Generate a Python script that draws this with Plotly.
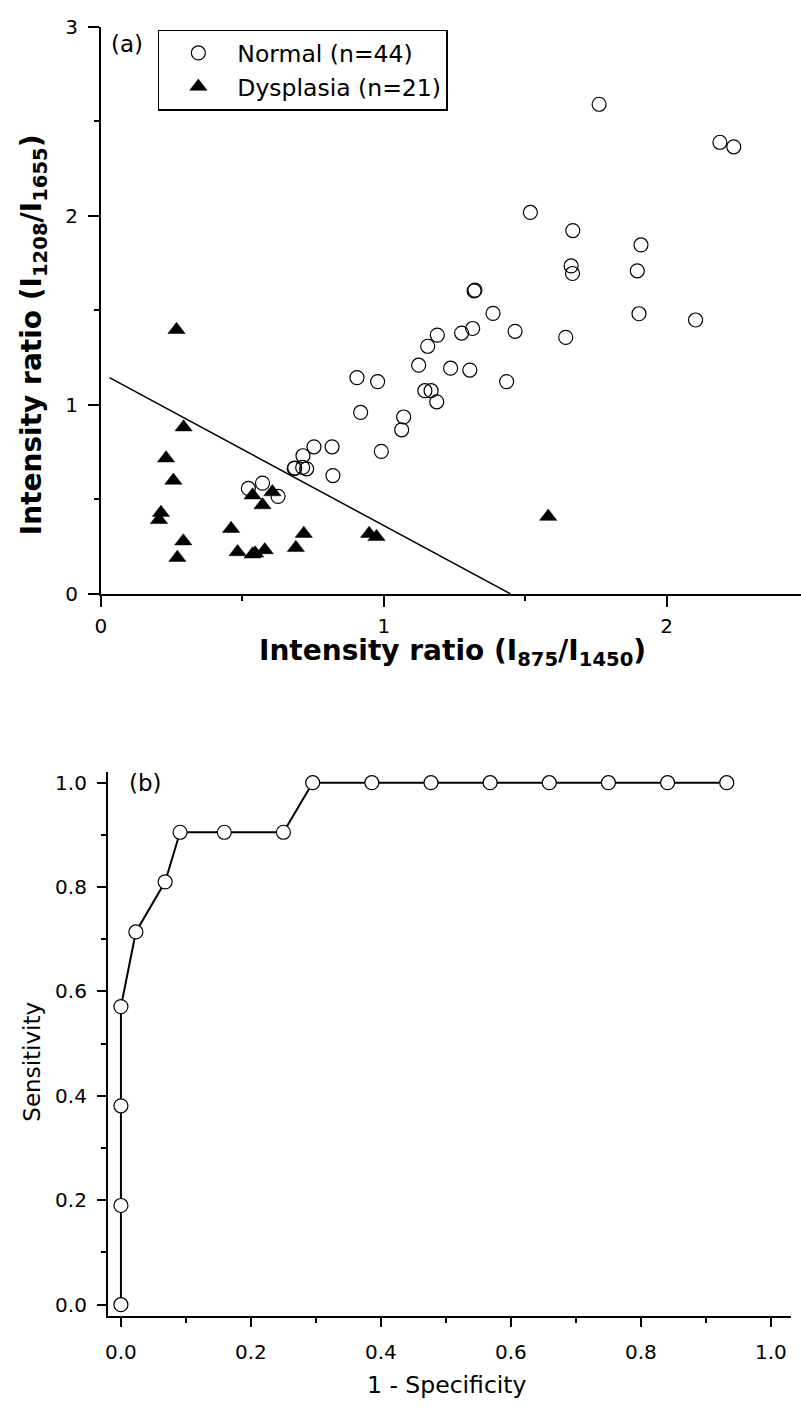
import plotly.graph_objects as go

# ---------------- data: panel (a) ----------------
normal_x = [1.761, 2.188, 2.237, 1.518, 1.668, 1.909, 1.662, 1.667, 1.896, 1.319,
            1.322, 1.386, 1.902, 2.102, 1.189, 1.155, 1.275, 1.314, 1.464, 1.643,
            1.123, 1.236, 1.304, 1.434, 1.145, 1.167, 1.187, 1.070, 1.063, 0.905,
            0.978, 0.918, 0.991, 0.753, 0.817, 0.714, 0.683, 0.713, 0.727, 0.820,
            0.571, 0.521, 0.626, 0.685]
normal_y = [2.590, 2.389, 2.365, 2.018, 1.922, 1.846, 1.735, 1.695, 1.709, 1.603,
            1.607, 1.484, 1.482, 1.449, 1.369, 1.310, 1.380, 1.404, 1.389, 1.357,
            1.210, 1.194, 1.184, 1.123, 1.075, 1.075, 1.016, 0.936, 0.868, 1.144,
            1.123, 0.960, 0.754, 0.778, 0.778, 0.731, 0.664, 0.669, 0.662, 0.626,
            0.586, 0.558, 0.516, 0.666]

dys_x = [0.267, 0.292, 0.230, 0.256, 0.212, 0.205, 0.291, 0.270, 0.460, 0.483,
         0.536, 0.545, 0.579, 0.536, 0.606, 0.571, 0.717, 0.689, 0.948, 0.974, 1.581]
dys_y = [1.397, 0.882, 0.718, 0.600, 0.430, 0.392, 0.279, 0.192, 0.345, 0.222,
         0.210, 0.215, 0.232, 0.522, 0.539, 0.470, 0.319, 0.244, 0.319, 0.302, 0.409]

# decision line: y = intercept + slope * x, drawn from x_start to where y = 0
line_intercept = 1.168
line_slope = -0.8065
line_x_start = 0.03

# ---------------- data: panel (b) ROC ----------------
one_minus_spec = [0.0, 0.0, 0.0, 0.0, 0.023, 0.068, 0.091, 0.159, 0.250, 0.295,
                  0.386, 0.477, 0.568, 0.659, 0.750, 0.841, 0.932]
sensitivity = [0.0, 0.190, 0.381, 0.571, 0.714, 0.810, 0.905, 0.905, 0.905, 1.0,
               1.0, 1.0, 1.0, 1.0, 1.0, 1.0, 1.0]

# ---------------- figure ----------------
W, H = 801, 1412
FONT = "DejaVu Sans"
BLACK = "black"


def px_x(p):
    return p / W


def px_y(p):
    return 1 - p / H


line_x_end = -line_intercept / line_slope
bx = [line_x_start, line_x_end]
by = [line_intercept + line_slope * v for v in bx]

fig = go.Figure()

fig.add_trace(go.Scatter(
    x=normal_x, y=normal_y, mode="markers", name="Normal (n=44)",
    marker=dict(symbol="circle-open", size=14, color=BLACK, line=dict(width=1.2, color=BLACK)),
    xaxis="x", yaxis="y"))
fig.add_trace(go.Scatter(
    x=dys_x, y=dys_y, mode="markers", name="Dysplasia (n=21)",
    marker=dict(symbol="triangle-up", size=15, color=BLACK, line=dict(width=0.5, color=BLACK)),
    xaxis="x", yaxis="y"))
fig.add_trace(go.Scatter(
    x=bx, y=by, mode="lines", showlegend=False,
    line=dict(color=BLACK, width=1.5), xaxis="x", yaxis="y"))

fig.add_trace(go.Scatter(
    x=one_minus_spec, y=sensitivity, mode="lines+markers", showlegend=False,
    line=dict(color=BLACK, width=2),
    marker=dict(symbol="circle", size=14, color="white", line=dict(width=1.2, color=BLACK)),
    xaxis="x2", yaxis="y2"))

axis_common = dict(
    showline=True, linecolor=BLACK, linewidth=2, mirror=False,
    showgrid=False, zeroline=False,
    ticks="outside", tickcolor=BLACK, tickwidth=2,
)

top_x_max = (W - 95.7) / 285.0

fig.update_layout(
    width=W, height=H,
    margin=dict(l=0, r=0, t=0, b=0),
    paper_bgcolor="white", plot_bgcolor="white",
    showlegend=True,
    legend=dict(
        x=px_x(153), y=px_y(18), xanchor="left", yanchor="top",
        bordercolor=BLACK, borderwidth=1.5, bgcolor="white",
        font=dict(family=FONT, size=23.5, color=BLACK),
        itemwidth=68, tracegroupgap=0,
    ),
    xaxis=dict(domain=[px_x(95.7), 1.0], range=[0, top_x_max], anchor="y",
               tickvals=[0, 1, 2], ticktext=["0", "1", "2"], ticklen=11,
               minor=dict(tickvals=[0.5, 1.5], ticklen=5, tickwidth=2, tickcolor=BLACK, ticks="outside"),
               ticklabelstandoff=2,
               tickfont=dict(family=FONT, size=20, color=BLACK),
               **axis_common),
    yaxis=dict(domain=[px_y(592), px_y(15)], range=[0, 3], anchor="x",
               tickvals=[0, 1, 2, 3], ticktext=["0", "1", "2", "3"], ticklen=11,
               minor=dict(tickvals=[0.5, 1.5, 2.5], ticklen=5, tickwidth=2, tickcolor=BLACK, ticks="outside"),
               ticklabelstandoff=6,
               tickfont=dict(family=FONT, size=20, color=BLACK),
               **axis_common),
    xaxis2=dict(domain=[px_x(102.7), px_x(791)], range=[-0.02, 1.031], anchor="y2",
                tickvals=[0, 0.2, 0.4, 0.6, 0.8, 1.0],
                ticktext=["0.0", "0.2", "0.4", "0.6", "0.8", "1.0"], ticklen=9,
                minor=dict(tickvals=[0.1, 0.3, 0.5, 0.7, 0.9], ticklen=5, tickwidth=2,
                           tickcolor=BLACK, ticks="outside"),
                ticklabelstandoff=8,
                tickfont=dict(family=FONT, size=20, color=BLACK),
                **axis_common),
    yaxis2=dict(domain=[px_y(1326.7), px_y(773)], range=[-0.022, 1.0207], anchor="x2",
                tickvals=[0, 0.2, 0.4, 0.6, 0.8, 1.0],
                ticktext=["0.0", "0.2", "0.4", "0.6", "0.8", "1.0"], ticklen=9,
                minor=dict(tickvals=[0.1, 0.3, 0.5, 0.7, 0.9], ticklen=5, tickwidth=2,
                           tickcolor=BLACK, ticks="outside"),
                ticklabelstandoff=6,
                tickfont=dict(family=FONT, size=20, color=BLACK),
                **axis_common),
)

annotations = [
    dict(text="(a)", x=px_x(104), y=px_y(33), xanchor="left", yanchor="middle",
         font=dict(family=FONT, size=23, color=BLACK)),
    dict(text="(b)", x=px_x(122), y=px_y(784), xanchor="left", yanchor="middle",
         font=dict(family=FONT, size=23, color=BLACK)),
    dict(text="<b>Intensity ratio (I<sub>875</sub>/I<sub>1450</sub>)</b>",
         x=px_x(450), y=px_y(631), xanchor="center", yanchor="top",
         font=dict(family=FONT, size=28, color=BLACK)),
    dict(text="<b>Intensity ratio (I<sub>1208</sub>/I<sub>1655</sub>)</b>",
         x=px_x(28), y=px_y(328), xanchor="center", yanchor="middle", textangle=-90,
         font=dict(family=FONT, size=28, color=BLACK)),
    dict(text="Sensitivity", x=px_x(26), y=px_y(1068), xanchor="center", yanchor="middle",
         textangle=-90, font=dict(family=FONT, size=23, color=BLACK)),
    dict(text="1 - Specificity", x=px_x(444), y=px_y(1397), xanchor="center", yanchor="middle",
         font=dict(family=FONT, size=23.5, color=BLACK)),
]
for a in annotations:
    a.update(xref="paper", yref="paper", showarrow=False)
fig.update_layout(annotations=annotations)

fig.write_html("out.html")
